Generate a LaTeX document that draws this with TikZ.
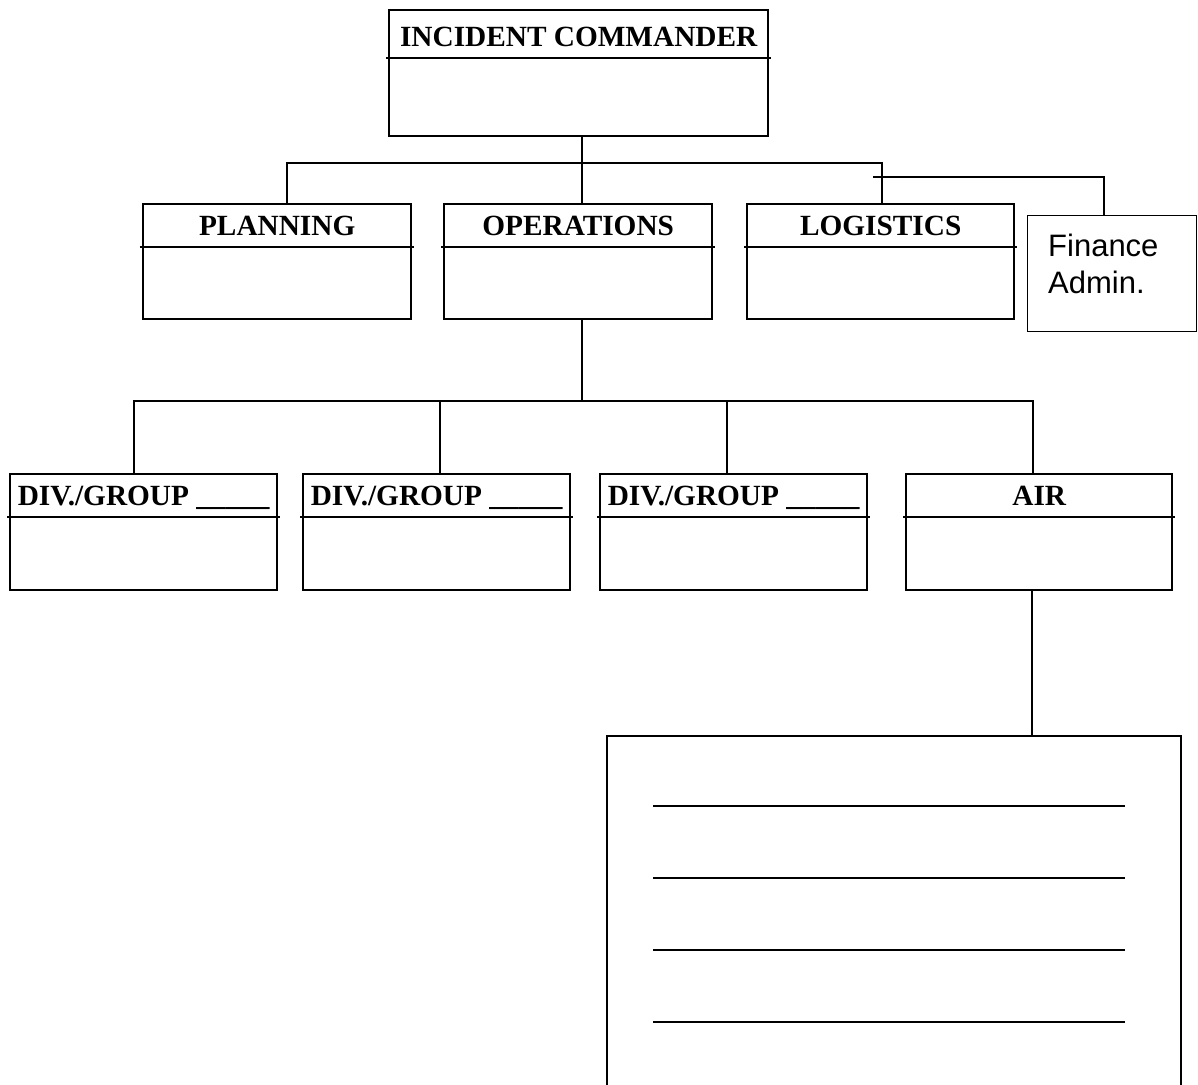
\documentclass[tikz,border=0pt]{standalone}
\usepackage{fontspec}
\setmainfont{Liberation Serif}
\newfontfamily\sansfin{Liberation Sans}
\newcommand\orgbox[7]{%
  \node[box, minimum width=#4pt, minimum height=#5pt] (#1) at (#2,#3) {};
  \draw[rule] ([shift={(-2,#6)}]#1.north west) -- ([shift={(2,#6)}]#1.north east);
  \node[hdr] (#1-t) at ([shift={(0,#6-11.5)}]#1.north) {#7};
}
\begin{document}
\begin{tikzpicture}[x=1pt,y=-1pt,
  box/.style={draw, line width=2.4pt, rectangle, inner sep=0pt, anchor=north west},
  thinbox/.style={draw, line width=1.3pt, rectangle, inner sep=0pt, anchor=north west},
  hdr/.style={font=\fontsize{29.3}{32}\selectfont\bfseries, anchor=base, inner sep=0pt},
  conn/.style={line width=2.3pt},
  thinconn/.style={line width=1.3pt},
  rule/.style={line width=2.4pt}]
\path[use as bounding box, clip] (0,0) rectangle (1198,1084);

% boxes
\orgbox{ic}{388}{9}{379}{126}{49}{INCIDENT COMMANDER}
\orgbox{plan}{142}{203}{268}{115}{44}{PLANNING}
\orgbox{ops}{443}{203}{268}{115}{44}{OPERATIONS}
\orgbox{log}{746}{203}{267}{115}{44}{LOGISTICS}
\orgbox{d1}{9}{473}{267}{116}{44}{DIV./GROUP \_\_\_\_\_}
\orgbox{d2}{302}{473}{267}{116}{44}{DIV./GROUP \_\_\_\_\_}
\orgbox{d3}{599}{473}{267}{116}{44}{DIV./GROUP \_\_\_\_\_}
\orgbox{air}{905}{473}{266}{116}{44}{AIR}

% finance box
\node[thinbox, minimum width=169pt, minimum height=116pt] (fin) at (1027,215) {};
\node[anchor=north west, inner sep=0pt, align=left,
      font=\sansfin\fontsize{31}{37}\selectfont] (fin-t) at (1048,234) {Finance\\Admin.};

% big lower box
\node[box, line width=1.8pt, minimum width=574pt, minimum height=420pt] (big) at (606,735) {};
\foreach \dy in {71,143,215,287}{
  \draw[rule] ([shift={(47,\dy)}]big.north west) -- ++(472,0);
}

% connectors level 1
\coordinate (bus1L) at (287,163);
\coordinate (bus1c) at (582,163);
\coordinate (bus1R) at (882,163);
\draw[conn] (bus1c |- ic.south) -- (bus1c);
\draw[conn] (bus1L |- plan.north) -- (bus1L) -- (bus1R) -- (bus1R |- log.north);
\draw[conn] (bus1c) -- (bus1c |- ops.north);

% finance connector
\coordinate (f1) at (873,177);
\coordinate (f2) at (1104,177);
\draw[thinconn] (f1) -- (f2) -- (f2 |- fin.north);

% connectors level 2
\coordinate (bus2L) at (134,401);
\coordinate (bus2c) at (582,401);
\coordinate (bus2R) at (1033,401);
\coordinate (s2) at (440,401);
\coordinate (s3) at (727,401);
\draw[conn] (bus2c |- ops.south) -- (bus2c);
\draw[conn] (bus2L |- d1.north) -- (bus2L) -- (bus2R) -- (bus2R |- air.north);
\draw[conn] (s2) -- (s2 |- d2.north);
\draw[conn] (s3) -- (s3 |- d3.north);

% air to lower box
\coordinate (a1) at (1032,600);
\draw[conn] (a1 |- air.south) -- (a1 |- big.north);
\end{tikzpicture}
\end{document}
